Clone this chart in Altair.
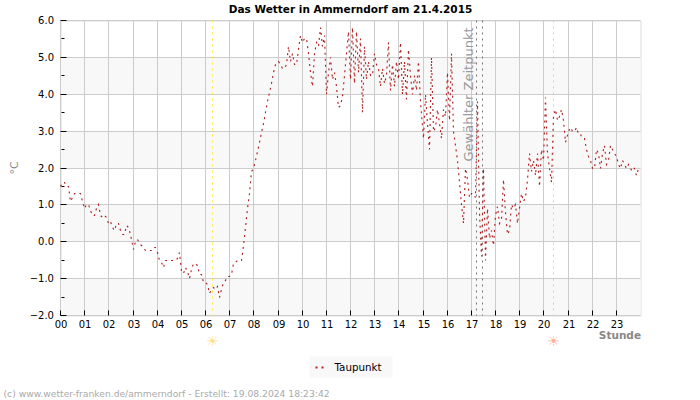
import altair as alt
import pandas as pd

# Dew point per hour of the day, one reading every five minutes
h00 = [1.5, 1.6, 1.6, 1.5, 1.5, 1.1, 1.2, 1.3, 1.3, 1.3, 1.3, 1.1]
h01 = [0.9, 1.0, 1.0, 0.85, 0.7, 0.7, 0.9, 1.0, 0.7, 0.65, 0.7, 0.65]
h02 = [0.5, 0.55, 0.4, 0.3, 0.5, 0.5, 0.3, 0.2, 0.2, 0.45, 0.4, 0.2]
h03 = [-0.2, 0.0, 0.05, -0.05, -0.1, -0.15, -0.25, -0.25, -0.25, -0.25, -0.15, -0.15]
h04 = [-0.3, -0.5, -0.55, -0.7, -0.5, -0.5, -0.5, -0.5, -0.5, -0.5, -0.45, -0.3]
h05 = [-0.8, -0.85, -0.7, -0.8, -1.0, -0.75, -0.6, -0.6, -0.65, -0.9, -0.9, -1.1]
h06 = [-1.1, -1.15, -1.4, -1.3, -1.25, -1.3, -1.2, -1.5, -1.3, -1.1, -1.05, -0.95]
h07 = [-0.95, -0.9, -0.6, -0.55, -0.5, -0.5, -0.5, -0.1, 0.4, 0.9, 1.3, 1.9]
h08 = [2.0, 2.2, 2.45, 2.7, 2.95, 3.2, 3.5, 3.8, 4.05, 4.3, 4.6, 4.8]
h09 = [4.9, 4.8, 4.7, 4.7, 4.8, 5.3, 4.9, 5.1, 4.8, 4.8, 5.2, 5.6]
h10 = [5.4, 5.5, 5.5, 5.1, 4.6, 4.2, 5.1, 5.4, 5.3, 5.8, 5.3, 5.6]
h11 = [4.0, 4.6, 5.0, 4.4, 4.6, 4.2, 3.65, 3.7, 3.95, 4.5, 5.1, 5.7]
h12 = [4.4, 5.8, 4.3, 5.7, 4.6, 5.5, 3.5, 5.3, 4.4, 4.9, 4.5, 4.5]
h13 = [5.1, 4.8, 4.7, 4.2, 4.7, 4.3, 4.5, 5.4, 4.1, 4.8, 4.2, 4.9]
h14 = [4.4, 5.4, 4.0, 4.9, 3.85, 5.2, 4.5, 4.0, 4.5, 4.1, 4.9, 3.8]
h15 = [2.8, 4.0, 3.2, 2.5, 5.0, 3.0, 3.1, 3.6, 3.2, 2.8, 3.6, 3.4]
h16 = [4.6, 3.3, 5.1, 3.0, 2.6, 2.2, 1.6, 1.0, 0.5, 2.0, 1.7, 1.2]
h17 = [1.3, 1.3, 1.2, 3.8, 0.8, -0.4, 2.0, -0.5, 0.9, 0.1, 0.3, -0.1]
h18 = [0.7, 0.95, 0.5, 0.6, 1.7, 0.8, 0.2, 0.3, 1.0, 0.9, 1.0, 0.5]
h19 = [0.9, 1.3, 1.1, 1.2, 1.7, 2.4, 1.9, 2.2, 1.8, 2.4, 1.5, 2.5]
h20 = [2.2, 3.9, 2.4, 2.0, 1.6, 3.4, 3.6, 3.3, 3.4, 3.6, 3.3, 2.7]
h21 = [3.0, 3.1, 3.0, 3.0, 3.1, 2.9, 2.9, 2.8, 2.8, 2.5, 2.3, 2.2]
h22 = [2.0, 2.0, 2.5, 2.4, 2.0, 2.4, 2.6, 2.1, 2.2, 2.6, 2.5, 2.4]
h23 = [2.3, 2.1, 2.0, 2.2, 2.1, 2.0, 2.1, 2.0, 1.9, 2.0, 1.8, 2.0]

hours = [h00, h01, h02, h03, h04, h05, h06, h07, h08, h09, h10, h11,
         h12, h13, h14, h15, h16, h17, h18, h19, h20, h21, h22, h23]

hour_ticks = list(range(24))
temp_major = [-2, -1, 0, 1, 2, 3, 4, 5, 6]
temp_minor = [-1.5, -0.5, 0.5, 1.5, 2.5, 3.5, 4.5, 5.5]
band_from = [-2, 0, 2, 4]
band_to = [-1, 1, 3, 5]
sunrise = 6.29
sunset = 20.40
selected = [17.214, 17.462]

series = pd.DataFrame(
    [{"h": i + j / 12, "v": v, "s": "Taupunkt"}
     for i, vals in enumerate(hours) for j, v in enumerate(vals)]
)

W, H = 580, 295
x_scale = alt.Scale(domain=[0, 24], nice=False, zero=False, round=True)
y_scale = alt.Scale(domain=[-2, 6], nice=False, zero=False, round=True)
FONT = "DejaVu Sans"
GRID = "#cccccc"

x_axis = alt.Axis(values=hour_ticks, format="02d", title="Stunde", grid=False, ticks=False,
                  domain=False, labelPadding=4, labelFontSize=10, labelColor="#000000",
                  labelFont=FONT, labelFlush=False, labelOverlap=False,
                  titleFont=FONT, titleFontSize=10.5, titleFontWeight="bold", titleColor="#888888",
                  titleX=580, titleY=25, titleAnchor="end", titleAlign="right", titleBaseline="bottom")
y_axis = alt.Axis(values=temp_major, format=".1f", title="°C", grid=False, ticks=False,
                  domain=False, labelPadding=7, labelFontSize=10, labelColor="#000000",
                  labelFont=FONT, labelOverlap=False,
                  titleFont=FONT, titleFontSize=11, titleFontWeight="normal", titleColor="#888888",
                  titleX=-41, titleY=147, titleAngle=270)

# Every layer shares one axis definition so that the merged axes keep their settings
def X(field):
    return alt.X(field, scale=x_scale, axis=x_axis)

def Y(field):
    return alt.Y(field, scale=y_scale, axis=y_axis)

bands = alt.Chart(pd.DataFrame({"a": band_from, "b": band_to})).mark_rect(color="#f8f8f8").encode(
    y=Y("a:Q"),
    y2="b:Q",
    x=alt.value(0),
    x2=alt.value(W),
)

grid_h = alt.Chart(pd.DataFrame({"v": temp_major})).mark_rule(color=GRID, strokeWidth=1).encode(
    y=Y("v:Q"), x=alt.value(0), x2=alt.value(W))
grid_v = alt.Chart(pd.DataFrame({"h": hour_ticks})).mark_rule(color=GRID, strokeWidth=1).encode(
    x=X("h:Q"), y=alt.value(0), y2=alt.value(H))

tick_major = alt.Chart(pd.DataFrame({"v": temp_major})).mark_rule(color="#000000").encode(
    y=Y("v:Q"), x=alt.value(0), x2=alt.value(6))
tick_minor = alt.Chart(pd.DataFrame({"v": temp_minor})).mark_rule(color="#000000").encode(
    y=Y("v:Q"), x=alt.value(1), x2=alt.value(4))
tick_hours = alt.Chart(pd.DataFrame({"h": hour_ticks})).mark_rule(color="#000000").encode(
    x=X("h:Q"), y=alt.value(H - 5), y2=alt.value(H))

def vline(hour, colour):
    return alt.Chart(pd.DataFrame({"h": [hour]})).mark_rule(
        color=colour, strokeWidth=1, strokeDash=[2, 4]
    ).encode(x=X("h:Q"), y=alt.value(0), y2=alt.value(H))

# Backing panel of the legend
legend_panel = alt.Chart(pd.DataFrame({"n": [1]})).mark_rect(color="#f8f8f8").encode(
    x=alt.value(249), x2=alt.value(332), y=alt.value(336), y2=alt.value(357))

line = alt.Chart(series).mark_line(strokeWidth=1.15, strokeDash=[2, 4], interpolate="linear").encode(
    x=X("h:Q"),
    y=Y("v:Q"),
    color=alt.Color(
        "s:N",
        scale=alt.Scale(domain=["Taupunkt"], range=["#b22222"]),
        legend=alt.Legend(
            title=None, orient="none", legendX=249, legendY=336,
            padding=5, symbolType="stroke", symbolDash=[2, 4], symbolStrokeWidth=2,
            symbolSize=100, labelFont=FONT, labelFontSize=10.3, labelColor="#000000",
            labelOffset=8,
        ),
    ),
)

def label(text, x, y, **style):
    return alt.Chart(pd.DataFrame({"t": [text]})).mark_text(font=FONT, **style).encode(
        text="t:N", x=alt.value(x), y=alt.value(y))

selected_label = label("Gewählter Zeitpunkt", 408, 74, angle=270, fontSize=13,
                       color="#999999", align="center", baseline="middle")
sun_up = alt.Chart(pd.DataFrame({"h": [sunrise], "t": ["☀"]})).mark_text(
    font=FONT, fontSize=14, color="#ffe08a", baseline="middle").encode(
    x=X("h:Q"), y=alt.value(321), text="t:N")
sun_down = alt.Chart(pd.DataFrame({"h": [sunset], "t": ["☀"]})).mark_text(
    font=FONT, fontSize=14, color="#ffb09a", baseline="middle").encode(
    x=X("h:Q"), y=alt.value(321), text="t:N")
footer = label("(c) www.wetter-franken.de/ammerndorf - Erstellt: 19.08.2024 18:23:42", -57, 373,
               fontSize=9.2, color="#aaaaaa", align="left", baseline="middle")

chart = alt.layer(
    bands, grid_h, grid_v, tick_major, tick_minor, tick_hours,
    vline(sunrise, "#ffee33"), vline(sunset, "#f5c98a"),
    vline(selected[0], "#777777"), vline(selected[1], "#777777"),
    legend_panel, line, selected_label, sun_up, sun_down, footer,
).properties(
    width=W,
    height=H,
    title=alt.TitleParams("Das Wetter in Ammerndorf am 21.4.2015", font=FONT, fontSize=10.5,
                          fontWeight="bold", color="#000000", anchor="middle", offset=0),
    autosize=alt.AutoSizeParams(type="none"),
    padding={"left": 60.5, "top": 20.5, "right": 59.5, "bottom": 84.5},
).configure_view(stroke=GRID).configure(background="#ffffff")

chart.save("out.html", embed_options={"renderer": "svg", "actions": False})
